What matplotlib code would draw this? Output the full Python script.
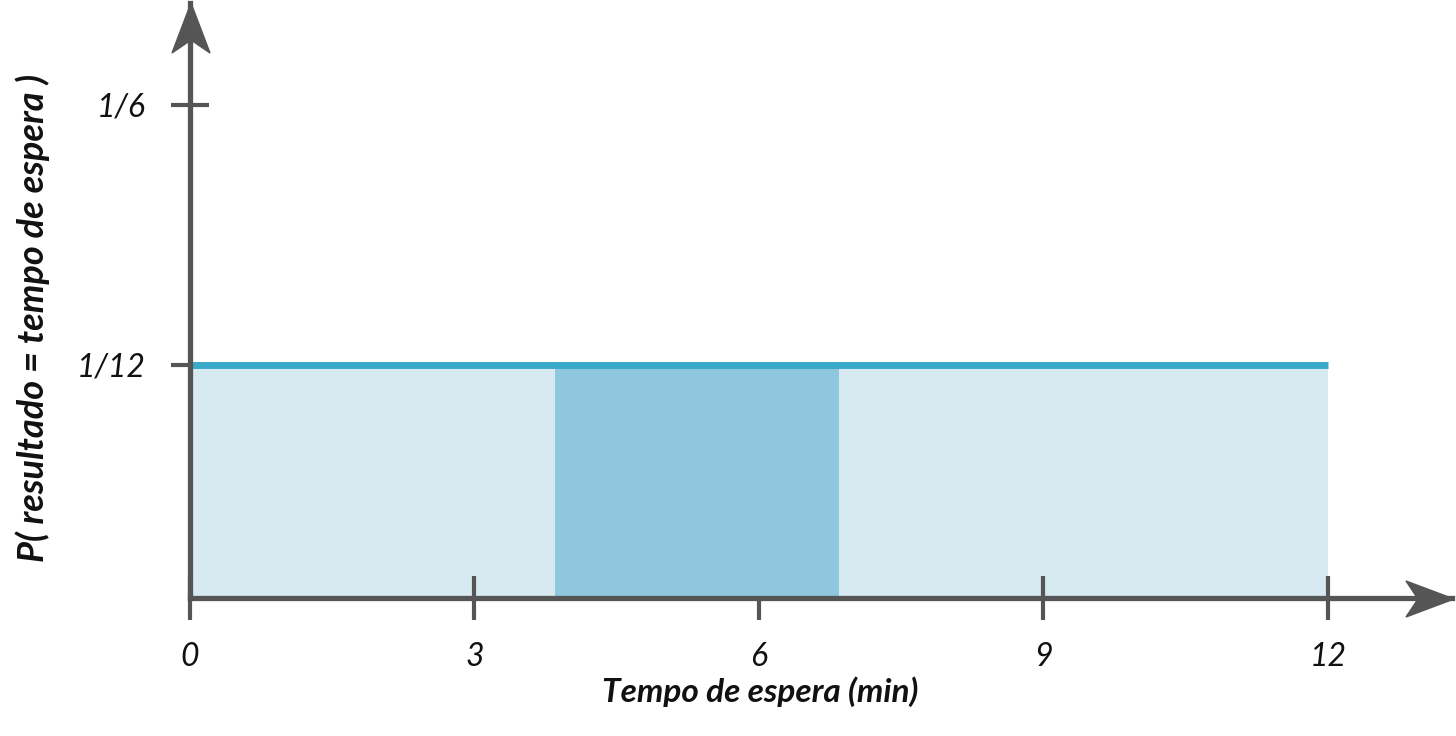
import matplotlib
matplotlib.use("Agg")
import matplotlib.pyplot as plt
import matplotlib.transforms as mtransforms
from matplotlib.patches import Polygon
import numpy as np

# data
x_ticks = [0, 3, 6, 9, 12]
x_tick_labels = ["0", "3", "6", "9", "12"]
y_ticks = [1 / 12, 1 / 6]
y_tick_labels = ["1/12", "1/6"]
x_min, x_max = 0, 12          # support of the uniform distribution
density = 1 / 12              # P = 1/12 everywhere
shade_start, shade_end = 3.85, 6.85   # highlighted interval

W, H = 1456, 736
axis_col = "#555555"
plt.rcParams["font.family"] = ["Lato", "DejaVu Sans"]

fig = plt.figure(figsize=(W / 100, H / 100), dpi=100)
ax = fig.add_axes([190 / W, 138 / H, (1452 - 190) / W, (733 - 138) / H])


# the picture's y axis is not evenly spaced: 0 -> 1/12 is shorter than 1/12 -> 1/6
def fwd(v):
    v = np.asarray(v, dtype=float)
    return np.where(v <= 1 / 12, v * 233 * 12, 233 + (v - 1 / 12) * 260 * 12)


def inv(p):
    p = np.asarray(p, dtype=float)
    return np.where(p <= 233, p / (233 * 12), 1 / 12 + (p - 233) / (260 * 12))


ax.set_yscale("function", functions=(fwd, inv))
ax.set_xlim(0, 13.31)
ax.set_ylim(0, inv(595).item())

ax.fill_between([x_min, x_max], 0, density, color="#d7eaf2", lw=0, zorder=1)
ax.fill_between([shade_start, shade_end], 0, density, color="#8fc7de", lw=0, zorder=2)
ax.plot([x_min, x_max], [density, density], color="#3ba9c9", lw=5, solid_capstyle="butt", zorder=3)

for s in ["top", "right"]:
    ax.spines[s].set_visible(False)
for s in ["left", "bottom"]:
    ax.spines[s].set_color(axis_col)
    ax.spines[s].set_linewidth(3.8)
    ax.spines[s].set_zorder(5)

ax.set_xticks(x_ticks)
ax.set_xticklabels(x_tick_labels)
ax.set_yticks(y_ticks)
ax.set_yticklabels(y_tick_labels)
ax.minorticks_off()
ax.tick_params(axis="x", direction="inout", length=32, width=3, color=axis_col,
               pad=16, labelsize=23)
ax.tick_params(axis="y", direction="inout", length=28, width=3, color=axis_col,
               pad=18, labelsize=23)
for lab in ax.get_xticklabels() + ax.get_yticklabels():
    lab.set_fontstyle("italic")
    lab.set_color("#111111")

fig.text(760 / W, 1 - 692 / H, "Tempo de espera (min)", ha="center", va="center",
         fontsize=24, fontweight="bold", fontstyle="italic", color="#111111")
fig.text(33 / W, 1 - 318 / H, "P( resultado = tempo de espera )", rotation=90,
         ha="center", va="center", fontsize=26, fontweight="bold",
         fontstyle="italic", color="#111111")

# arrowheads, drawn in figure pixels (origin at top-left)
px = mtransforms.Affine2D().scale(1 / W, -1 / H).translate(0, 1) + fig.transFigure
fig.patches.append(Polygon([(191, 3), (210, 53), (191, 40), (172, 53)],
                           closed=True, color=axis_col, transform=px, zorder=10))
fig.patches.append(Polygon([(1454, 599), (1406, 617), (1418, 599), (1406, 581)],
                           closed=True, color=axis_col, transform=px, zorder=10))

fig.savefig("out.png", dpi=100, facecolor="white")
